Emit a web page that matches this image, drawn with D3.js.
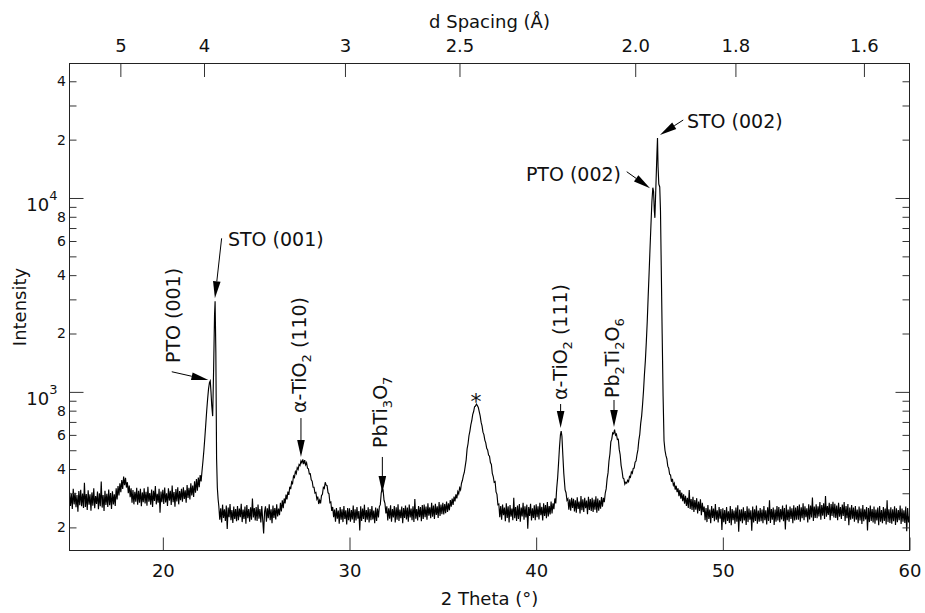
<!DOCTYPE html>
<html>
<head>
<meta charset="utf-8">
<script src="https://cdn.jsdelivr.net/npm/d3@7"></script>
<style>
  body { margin: 0; background: #fff; }
  svg { display: block; }
  text { font-family: "DejaVu Sans", sans-serif; fill: #111; }
</style>
</head>
<body>
<svg id="chart" width="925" height="613"></svg>
<script>
// XRD scan: counts every 0.05 deg from 15 to 60 deg (2 theta), one row per degree
const scanStart = 15;
const scanStep = 0.05;
const counts = [
  305, 258, 297, 249, 316, 263, 302, 254, 294, 241, 308, 260, 313, 257, 299, 252, 340, 255, 297, 246,
  311, 262, 296, 244, 303, 259, 318, 251, 290, 264, 306, 248, 300, 257, 345, 253, 294, 243, 309, 261,
  298, 255, 314, 260, 301, 249, 307, 263, 296, 258, 318, 279, 327, 292, 338, 304, 351, 316, 366, 330,
  360, 321, 342, 300, 329, 286, 318, 268, 312, 263, 305, 271, 320, 262, 309, 268, 316, 257, 303, 270,
  318, 266, 305, 259, 324, 271, 301, 262, 314, 255, 309, 274, 327, 263, 298, 268, 316, 238, 306, 270,
  313, 264, 321, 269, 300, 258, 318, 275, 309, 261, 329, 270, 304, 256, 315, 272, 322, 263, 308, 276,
  316, 271, 322, 280, 311, 268, 331, 284, 320, 279, 338, 292, 329, 287, 346, 302, 355, 309, 362, 322,
  372, 345, 392, 440, 500, 580, 680, 800, 920, 1040, 1120, 1100, 920, 750, 1100, 2200, 2930, 1300, 380, 290,
  257, 219, 251, 212, 262, 224, 248, 216, 259, 196, 253, 226, 264, 218, 246, 211, 256, 221, 249, 215,
  258, 218, 250, 226, 265, 213, 247, 221, 256, 209, 261, 223, 249, 214, 254, 219, 282, 225, 252, 217,
  255, 216, 262, 222, 249, 212, 258, 220, 186, 241, 257, 214, 251, 223, 263, 218, 248, 210, 259, 224,
  252, 220, 263, 228, 250, 231, 268, 242, 276, 251, 282, 266, 295, 279, 306, 294, 324, 315, 343, 337,
  368, 362, 388, 379, 406, 398, 422, 417, 441, 430, 449, 424, 445, 420, 431, 404, 401, 377, 378, 352,
  346, 322, 322, 301, 303, 280, 288, 264, 276, 266, 292, 296, 322, 318, 342, 330, 328, 302, 298, 268,
  270, 243, 255, 226, 247, 214, 252, 222, 244, 209, 255, 219, 248, 213, 258, 221, 245, 207, 252, 218,
  251, 214, 246, 220, 259, 211, 248, 217, 255, 222, 243, 193, 257, 216, 250, 221, 262, 213, 246, 219,
  254, 212, 249, 218, 258, 220, 244, 210, 253, 216, 250, 225, 256, 262, 301, 318, 312, 276, 266, 236,
  257, 217, 251, 222, 260, 214, 249, 225, 258, 212, 254, 219, 263, 216, 247, 223, 256, 210, 252, 224,
  259, 220, 253, 214, 262, 225, 250, 218, 257, 213, 280, 222, 249, 217, 258, 226, 255, 215, 261, 221,
  262, 226, 256, 219, 266, 230, 254, 223, 268, 227, 259, 221, 265, 232, 257, 224, 270, 229, 262, 234,
  268, 233, 264, 237, 272, 240, 266, 245, 277, 256, 282, 261, 288, 272, 296, 282, 306, 298, 320, 312,
  338, 350, 370, 384, 414, 446, 508, 540, 594, 628, 676, 710, 764, 792, 838, 845, 865, 850, 832, 790,
  752, 698, 668, 620, 602, 564, 546, 512, 502, 472, 466, 432, 422, 380, 366, 342, 345, 305, 296, 262,
  264, 226, 258, 219, 262, 231, 253, 215, 266, 224, 257, 212, 261, 227, 250, 218, 284, 223, 255, 216,
  259, 221, 264, 214, 253, 228, 268, 219, 257, 225, 262, 197, 255, 229, 265, 217, 251, 224, 260, 218,
  263, 226, 257, 220, 268, 231, 255, 217, 266, 229, 261, 223, 270, 228, 258, 233, 272, 236, 266, 248,
  282, 266, 318, 360, 430, 520, 600, 620, 520, 430, 350, 312, 302, 276, 281, 247, 279, 244, 284, 252,
  281, 242, 276, 238, 286, 249, 272, 236, 290, 245, 279, 240, 284, 251, 275, 234, 288, 246, 280, 243,
  284, 240, 278, 247, 289, 238, 282, 244, 276, 250, 287, 256, 284, 270, 300, 316, 356, 382, 440, 478,
  552, 570, 614, 608, 638, 598, 606, 568, 570, 505, 474, 418, 392, 360, 356, 334, 342, 338, 350, 344,
  366, 362, 386, 380, 403, 405, 434, 440, 474, 502, 562, 604, 688, 750, 860, 1010, 1230, 1450, 1800, 2300,
  3100, 4100, 5500, 7300, 9600, 11300, 10800, 8600, 7900, 12000, 20400, 14500, 11800, 11400, 4500, 2000, 950, 560, 500, 470,
  452, 414, 404, 376, 372, 344, 356, 330, 338, 313, 328, 304, 318, 290, 312, 281, 302, 273, 296, 265,
  291, 258, 284, 252, 312, 249, 280, 246, 288, 240, 277, 247, 283, 236, 272, 243, 279, 231, 268, 240,
  256, 218, 252, 213, 261, 221, 247, 210, 258, 224, 250, 215, 264, 219, 245, 212, 255, 222, 249, 194,
  251, 213, 246, 208, 255, 216, 242, 211, 258, 205, 249, 218, 244, 209, 253, 214, 260, 190, 247, 215,
  248, 210, 254, 217, 243, 206, 257, 213, 250, 219, 245, 192, 256, 212, 248, 216, 259, 209, 244, 214,
  252, 215, 247, 210, 258, 218, 245, 207, 254, 216, 276, 211, 249, 219, 253, 206, 247, 214, 258, 217,
  255, 213, 249, 220, 259, 215, 252, 195, 262, 218, 247, 214, 256, 221, 251, 210, 260, 217, 253, 219,
  258, 219, 262, 214, 254, 223, 266, 218, 257, 226, 251, 212, 263, 220, 259, 225, 285, 216, 256, 224,
  263, 223, 257, 228, 270, 219, 261, 230, 266, 221, 290, 227, 258, 232, 268, 218, 264, 229, 271, 225,
  265, 224, 259, 218, 268, 227, 255, 221, 262, 229, 270, 216, 258, 223, 264, 205, 253, 219, 261, 222,
  253, 214, 258, 219, 247, 210, 256, 217, 250, 208, 261, 215, 248, 220, 255, 193, 252, 213, 259, 216,
  249, 212, 256, 209, 247, 217, 253, 205, 258, 214, 246, 210, 255, 216, 250, 207, 276, 213, 248, 211,
  254, 209, 248, 215, 257, 206, 251, 213, 246, 218, 259, 208, 250, 214, 245, 211, 256, 191, 252, 212,
  229
];

// finer scans across the sharp reflections: [2theta, counts]
const fineSTO001 = [
  [22.15, 440], [22.2, 500], [22.25, 580], [22.3, 680], [22.35, 800],
  [22.4, 920], [22.45, 1040], [22.5, 1120], [22.54, 1140], [22.58, 1000],
  [22.62, 850], [22.67, 750], [22.72, 1300], [22.77, 2500], [22.8, 2930],
  [22.84, 1600], [22.88, 450], [22.92, 320], [22.96, 280]
];
const fineTiO2111 = [
  [41.15, 360], [41.2, 430], [41.25, 520], [41.3, 600], [41.34, 628],
  [41.38, 590], [41.43, 470], [41.48, 380], [41.53, 330]
];
const fineSTO002 = [
  [45.85, 1450], [45.9, 1800], [45.95, 2300], [46.0, 3100], [46.05, 4100],
  [46.1, 5500], [46.15, 7300], [46.2, 9600], [46.25, 11300], [46.29, 10800],
  [46.33, 8600], [46.36, 7900], [46.42, 12000], [46.47, 17000], [46.5, 20400],
  [46.53, 14500], [46.57, 11800], [46.62, 11400], [46.66, 8600], [46.7, 4500],
  [46.75, 2000], [46.8, 950], [46.85, 560], [46.9, 500], [46.95, 470]
];

const twoThetaTicks = [20, 30, 40, 50, 60];
const dSpacingTicks = [5, 4, 3, 2.5, 2.0, 1.8, 1.6];
const dSpacingLabels = ["5", "4", "3", "2.5", "2.0", "1.8", "1.6"];
const wavelength = 1.5406; // Cu K-alpha, Angstrom
const intensityDecades = [100, 1000, 10000];
const labelledMultiples = [2, 4, 6, 8];

// peak annotations: text pieces ([string, isSubscript]) and arrow tip in data units
const peakLabels = [
  { key: "pto001", parts: [["PTO (001)", 0]], tip: [22.44, 1151] },
  { key: "sto001", parts: [["STO (001)", 0]], tip: [22.79, 3038] },
  { key: "tio110", parts: [["\u03b1-TiO", 0], ["2", 1], [" (110)", 0]], tip: [27.40, 461] },
  { key: "pbti3o7", parts: [["PbTi", 0], ["3", 1], ["O", 0], ["7", 1]], tip: [31.76, 301] },
  { key: "tio111", parts: [["\u03b1-TiO", 0], ["2", 1], [" (111)", 0]], tip: [41.31, 651] },
  { key: "pb2ti2o6", parts: [["Pb", 0], ["2", 1], ["Ti", 0], ["2", 1], ["O", 0], ["6", 1]], tip: [44.17, 659] },
  { key: "pto002", parts: [["PTO (002)", 0]], tip: [46.10, 11220] },
  { key: "sto002", parts: [["STO (002)", 0]], tip: [46.63, 21130] }
];
const unknownPeak = { text: "*", at: [36.78, 862] };

// ---------- layout ----------
const svg = d3.select("#chart");
const L = 69.5, R = 909.5, T = 63.5, B = 550.5;

const x = d3.scaleLinear().domain([15, 60]).range([L, R]);
const y = d3.scaleLog().domain([152, 49400]).range([B, T]);

// merge coarse and fine scans
const fineSets = [fineSTO001, fineTiO2111, fineSTO002];
const coarse = counts.map((c, i) => [Math.round((scanStart + i * scanStep) * 100) / 100, c])
  .filter(([t]) => !fineSets.some(s => t >= s[0][0] && t <= s[s.length - 1][0]));
const scan = coarse.concat(...fineSets).sort((a, b) => a[0] - b[0]);

svg.append("clipPath").attr("id", "plotClip")
  .append("rect").attr("x", L).attr("y", T).attr("width", R - L).attr("height", B - T);

svg.append("path")
  .datum(scan)
  .attr("clip-path", "url(#plotClip)")
  .attr("fill", "none")
  .attr("stroke", "#000")
  .attr("stroke-width", 1.15)
  .attr("stroke-linejoin", "miter")
  .attr("d", d3.line().x(d => x(d[0])).y(d => y(d[1])));

// ---------- axes ----------
const tickColor = "#333";
function styleAxis(g) {
  g.select(".domain").remove();
  g.selectAll(".tick line").attr("stroke", tickColor);
  g.selectAll("text").attr("font-family", "DejaVu Sans, sans-serif").attr("fill", "#111");
}

// bottom: 2 theta
svg.append("g").attr("transform", `translate(0,${B})`)
  .call(d3.axisBottom(x).tickValues(twoThetaTicks).tickSizeInner(-13).tickSizeOuter(0)
    .tickPadding(14).tickFormat(d3.format("d")))
  .call(styleAxis)
  .call(g => g.selectAll("text").attr("font-size", 18));

// top: d spacing
const toTwoTheta = d => 2 * Math.asin(wavelength / (2 * d)) * 180 / Math.PI;
svg.append("g").attr("transform", `translate(0,${T})`)
  .call(d3.axisTop(x).tickValues(dSpacingTicks.map(toTwoTheta)).tickSizeInner(-13.5).tickSizeOuter(0)
    .tickPadding(12).tickFormat((d, i) => dSpacingLabels[i]))
  .call(styleAxis)
  .call(g => g.selectAll("text").attr("font-size", 18));

// intensity ticks: every integer multiple of each decade
const intensityTicks = [];
intensityDecades.forEach(dec => {
  for (let m = 1; m <= 9; m++) {
    const v = dec * m;
    if (v >= y.domain()[0] && v <= y.domain()[1]) intensityTicks.push({ v, m, dec });
  }
});
const tickVals = intensityTicks.map(t => t.v);
const tickInfo = new Map(intensityTicks.map(t => [t.v, t]));

const leftAxis = svg.append("g").attr("transform", `translate(${L},0)`)
  .call(d3.axisLeft(y).tickValues(tickVals).tickSizeInner(-7).tickSizeOuter(0).tickPadding(3.5)
    .tickFormat(v => {
      const t = tickInfo.get(v);
      return labelledMultiples.includes(t.m) ? String(t.m) : "";
    }))
  .call(styleAxis);
leftAxis.selectAll(".tick text").attr("font-size", 14);
leftAxis.selectAll(".tick").each(function (v) {
  const t = tickInfo.get(v);
  if (t.m !== 1) return;
  const g = d3.select(this);
  g.select("line").attr("x2", 14);
  const txt = g.select("text").text("").attr("x", -12).attr("dy", null).attr("y", 12.5)
    .attr("font-size", 18);
  txt.append("tspan").text("10");
  txt.append("tspan").attr("font-size", 13).attr("dy", -11).text(String(Math.round(Math.log10(t.dec))));
});

svg.append("g").attr("transform", `translate(${R},0)`)
  .call(d3.axisRight(y).tickValues(tickVals).tickSizeInner(-7).tickSizeOuter(0).tickFormat(""))
  .call(styleAxis)
  .call(g => g.selectAll(".tick").each(function (v) {
    if (tickInfo.get(v).m === 1) d3.select(this).select("line").attr("x2", -14);
  }));

// frame
svg.append("rect").attr("x", L).attr("y", T).attr("width", R - L).attr("height", B - T)
  .attr("fill", "none").attr("stroke", "#222").attr("stroke-width", 1);

// axis titles
svg.append("text").attr("x", (L + R) / 2).attr("y", 605).attr("text-anchor", "middle")
  .attr("font-size", 18).text("2 Theta (\u00b0)");
svg.append("text").attr("x", (L + R) / 2).attr("y", 28).attr("text-anchor", "middle")
  .attr("font-size", 18).text("d Spacing (\u00c5)");
svg.append("text").attr("transform", `translate(26,${(T + B) / 2}) rotate(-90)`)
  .attr("text-anchor", "middle").attr("font-size", 18).text("Intensity");

// ---------- annotations ----------
// pixel geometry relative to each arrow tip: tail of the arrow, text origin, rotation, anchor
const labelLayout = {
  pto001:  { tail: [-36.6, -8.3], text: [-28.5, -17], rotate: true },
  sto001:  { tail: [6.7, -60], text: [13, -52.3], rotate: false },
  tio110:  { tail: [0, -39], text: [5.5, -44], rotate: true },
  pbti3o7: { tail: [0, -36], text: [4.7, -45], rotate: true },
  tio111:  { tail: [0, -24], text: [6.5, -28], rotate: true },
  pb2ti2o6:{ tail: [0, -27], text: [5, -29], rotate: true },
  pto002:  { tail: [-23.3, -16.6], text: [-29, -7.3], rotate: false, anchor: "end" },
  sto002:  { tail: [23.3, -15], text: [27, -7], rotate: false }
};
const headLen = 17, headHalf = 3.8;
const ann = svg.append("g");

peakLabels.forEach(p => {
  const lay = labelLayout[p.key];
  const tx = x(p.tip[0]), ty = y(p.tip[1]);
  const sx = tx + lay.tail[0], sy = ty + lay.tail[1];
  const dx = tx - sx, dy = ty - sy, len = Math.hypot(dx, dy);
  const ux = dx / len, uy = dy / len;
  const bx = tx - ux * headLen, by = ty - uy * headLen;
  ann.append("line").attr("x1", sx).attr("y1", sy).attr("x2", bx).attr("y2", by)
    .attr("stroke", "#000").attr("stroke-width", 1);
  ann.append("path")
    .attr("d", `M${tx},${ty}L${bx - uy * headHalf},${by + ux * headHalf}L${bx + uy * headHalf},${by - ux * headHalf}Z`)
    .attr("fill", "#000");

  const ox = tx + lay.text[0], oy = ty + lay.text[1];
  const t = ann.append("text")
    .attr("transform", `translate(${ox},${oy})${lay.rotate ? " rotate(-90)" : ""}`)
    .attr("text-anchor", lay.anchor || "start")
    .attr("font-size", 19);
  let shifted = false;
  p.parts.forEach(([s, sub]) => {
    const span = t.append("tspan").text(s);
    if (sub && !shifted) { span.attr("font-size", 13).attr("dy", 5); shifted = true; }
    else if (sub && shifted) { span.attr("font-size", 13); }
    else if (!sub && shifted) { span.attr("dy", -5); shifted = false; }
  });
});

ann.append("text")
  .attr("x", x(unknownPeak.at[0])).attr("y", y(unknownPeak.at[1]) + 5)
  .attr("text-anchor", "middle").attr("font-size", 22).text(unknownPeak.text);
</script>
</body>
</html>
